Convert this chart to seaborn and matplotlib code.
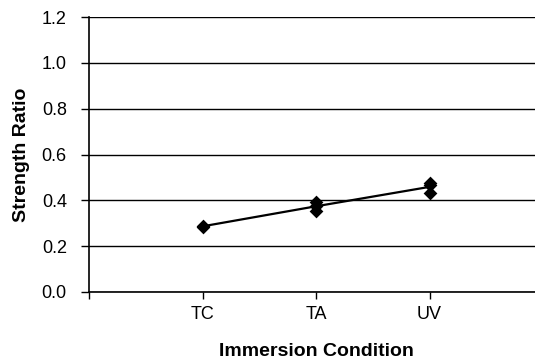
import matplotlib
matplotlib.use("Agg")
import matplotlib.pyplot as plt
import seaborn as sns
import pandas as pd

conditions = ["TC", "TC", "TA", "TA", "TA", "UV", "UV", "UV"]
strength_ratio = [0.288, 0.285, 0.392, 0.375, 0.355, 0.476, 0.468, 0.432]
order = ["TC", "TA", "UV"]
y_ticks = [0.0, 0.2, 0.4, 0.6, 0.8, 1.0, 1.2]

df = pd.DataFrame({"Immersion Condition": conditions, "Strength Ratio": strength_ratio})

sns.set_theme(style="white")
plt.rcParams["font.family"] = ["Liberation Sans", "DejaVu Sans"]

fig = plt.figure(figsize=(5.35, 3.62), dpi=100)
ax = fig.add_axes([89 / 535, 1 - 292 / 362, 454 / 535, 275 / 362])

sns.pointplot(data=df, x="Immersion Condition", y="Strength Ratio", order=order,
              errorbar=None, color="black", markers="", linewidth=1.6, ax=ax)
sns.stripplot(data=df, x="Immersion Condition", y="Strength Ratio", order=order,
              jitter=False, marker="D", color="black", size=7, ax=ax, zorder=5)

ax.set_xlim(-1, 3)
ax.set_ylim(0, 1.2)
ax.set_yticks(y_ticks)
ax.set_yticklabels([f"{v:.1f}" for v in y_ticks])
ax.yaxis.grid(True, color="black", linewidth=1.0)
ax.set_axisbelow(True)
for s in ["top", "right"]:
    ax.spines[s].set_visible(False)
for s in ["left", "bottom"]:
    ax.spines[s].set_color("black")
    ax.spines[s].set_linewidth(1.2)
ax.tick_params(axis="both", which="both", direction="out", width=1,
               color="black", labelsize=13, labelcolor="black", left=True, bottom=True)
ax.tick_params(axis="y", length=6, pad=10)
ax.tick_params(axis="x", length=5, pad=5)
ax.set_xticks([-1, 0, 1, 2])
ax.set_xticklabels(["", "TC", "TA", "UV"])
ax.set_xlabel("Immersion Condition", fontsize=14, fontweight="bold", color="black")
ax.set_ylabel("Strength Ratio", fontsize=14, fontweight="bold", color="black")
ax.xaxis.label.set_va("center")
ax.yaxis.label.set_va("center")
ax.xaxis.set_label_coords(0.5, (292 - 351) / 275)
ax.yaxis.set_label_coords((22 - 89) / 454, 0.5)

fig.savefig("out.png", dpi=100)
